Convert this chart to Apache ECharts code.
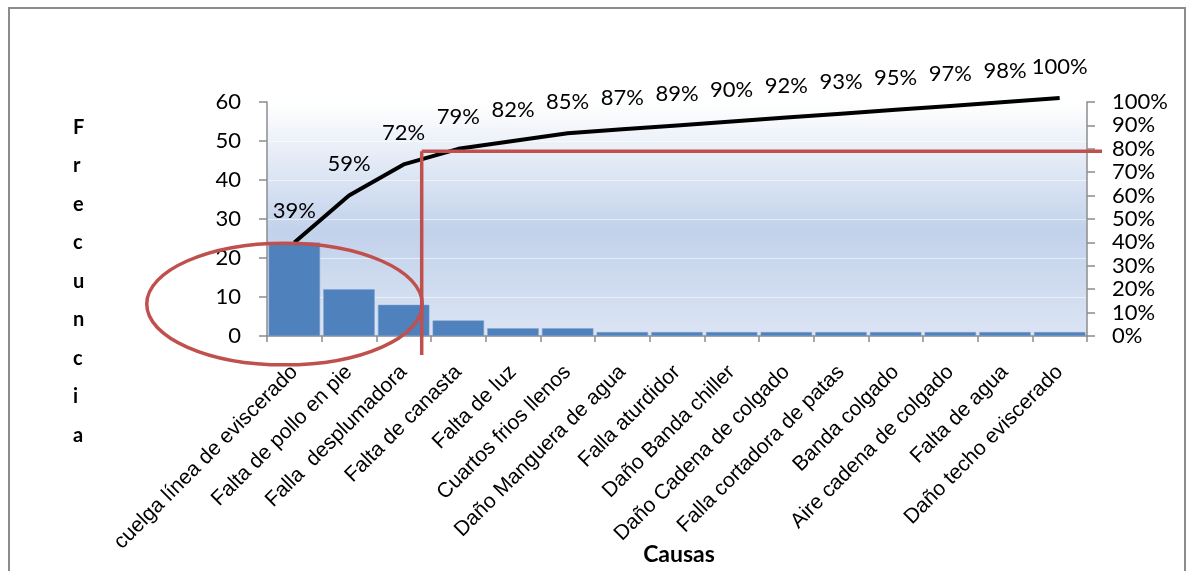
<!DOCTYPE html>
<html>
<head>
<meta charset="utf-8">
<script src="https://cdn.jsdelivr.net/npm/echarts@6/dist/echarts.min.js"></script>
<style>
html,body{margin:0;padding:0;background:#fff;}
#c{width:1191px;height:571px;}
</style>
</head>
<body>
<div id="c"></div>
<script>
const categories = [
  "cuelga línea de eviscerado",
  "Falta de pollo en pie",
  "Falla  desplumadora",
  "Falta de canasta",
  "Falta de luz",
  "Cuartos frios llenos",
  "Daño Manguera de agua",
  "Falla aturdidor",
  "Daño Banda chiller",
  "Daño Cadena de colgado",
  "Falla cortadora de patas",
  "Banda colgado",
  "Aire cadena de colgado",
  "Falta de agua",
  "Daño techo eviscerado"
];
const counts = [24, 12, 8, 4, 2, 2, 1, 1, 1, 1, 1, 1, 1, 1, 1];
const leftTicks = { min: 0, max: 60, interval: 10 };
const rightTicks = { min: 0, max: 100, interval: 10 };
const yAxisTitle = "Frecuncia";
const xAxisTitle = "Causas";
// annotation (hand-drawn in original): cutoff at ~79%, split after ~2.3 categories
const cutoffPercent = 79;

const total = counts.reduce((a, b) => a + b, 0);
const cumulative = [];
counts.reduce((acc, v, i) => { cumulative[i] = acc + v; return acc + v; }, 0);

const chart = echarts.init(document.getElementById('c'));
const numFont = 'Lato';
const option = {
  animation: false,
  grid: {
    left: 267, right: 104, top: 102, bottom: 235,
    containLabel: false,
    outerBoundsMode: 'none',
    show: true, borderWidth: 0,
    backgroundColor: {
      type: 'linear', x: 0, y: 0, x2: 0, y2: 1,
      colorStops: [
        { offset: 0, color: '#ffffff' },
        { offset: 0.55, color: '#c2d2eb' },
        { offset: 1, color: '#dbe4f3' }
      ]
    }
  },
  xAxis: {
    type: 'category',
    data: categories,
    axisLine: { lineStyle: { color: '#8c8c8c', width: 1.5 } },
    axisTick: { show: true, length: 6, lineStyle: { color: '#8c8c8c', width: 1.5 } },
    axisLabel: {
      interval: 0, rotate: 45, margin: 33,
      fontFamily: 'Liberation Sans, Arial', fontSize: 21, color: '#000'
    }
  },
  yAxis: [
    {
      type: 'value', min: leftTicks.min, max: leftTicks.max, interval: leftTicks.interval,
      axisLine: { show: true, lineStyle: { color: '#8c8c8c', width: 1.5 } },
      axisTick: { show: true, length: 8, lineStyle: { color: '#8c8c8c', width: 1.5 } },
      axisLabel: { fontFamily: numFont, fontSize: 22, color: '#000', margin: 26 },
      splitLine: { show: true, lineStyle: { color: 'rgba(255,255,255,0.55)', width: 1 } }
    },
    {
      type: 'value', min: rightTicks.min, max: rightTicks.max, interval: rightTicks.interval,
      position: 'right',
      axisLine: { show: true, lineStyle: { color: '#8c8c8c', width: 1.5 } },
      axisTick: { show: true, length: 8, lineStyle: { color: '#8c8c8c', width: 1.5 } },
      axisLabel: { fontFamily: numFont, fontSize: 22, color: '#000', margin: 25, formatter: '{value}%' },
      splitLine: { show: false }
    }
  ],
  series: [
    {
      type: 'bar',
      data: counts,
      barCategoryGap: '6%',
      itemStyle: { color: '#4f81bd', borderColor: '#7fa3d0', borderWidth: 0.5 }
    },
    {
      type: 'line',
      data: cumulative,
      yAxisIndex: 0,
      clip: false,
      symbol: 'circle',
      symbolSize: 1,
      showSymbol: true,
      itemStyle: { color: 'rgba(0,0,0,0)' },
      lineStyle: { color: '#000', width: 4 },
      label: {
        show: true, position: 'top', distance: 20,
        fontFamily: numFont, fontSize: 22, color: '#000',
        formatter: p => Math.round(p.value / total * 100) + '%'
      },
      labelLayout: { hideOverlap: false },
      z: 3
    }
  ],
  graphic: []
};
chart.setOption(option);

function annotate() {
  const px = (ci, v) => chart.convertToPixel({ gridIndex: 0 }, [ci, v]);
  const c0 = px(0, 0);
  const band = px(1, 0)[0] - c0[0];
  const yL = v => chart.convertToPixel({ yAxisIndex: 0 }, v);
  const yR = v => chart.convertToPixel({ yAxisIndex: 1 }, v);
  const leftX = c0[0] - band / 2;
  const rightX = px(categories.length - 1, 0)[0] + band / 2;
  const hy = yR(cutoffPercent);
  const vx = c0[0] + band * 2.33;
  const red = '#c0504d';
  chart.setOption({
    graphic: [
      { type: 'rect', shape: { x: 9, y: 8, width: 1176, height: 600 },
        style: { fill: 'none', stroke: '#8c8c8c', lineWidth: 2 }, z: 100 },
      { type: 'text', left: 73, top: 108,
        style: { text: yAxisTitle.split('').join('\n'), font: 'bold 20px Lato',
          fill: '#000', align: 'center', lineHeight: 38.5 }, z: 100 },
      { type: 'text', x: (leftX + rightX) / 2 + 2, y: 555,
        style: { text: xAxisTitle, font: 'bold 23px Lato', fill: '#000',
          align: 'center', verticalAlign: 'middle' }, z: 100 },
      { type: 'ellipse',
        shape: { cx: c0[0] - band * 0.18, cy: yL(8.2), rx: band * 2.52, ry: yL(0) - yL(15.6) },
        style: { fill: 'none', stroke: red, lineWidth: 3.5 }, z: 100 },
      { type: 'line', shape: { x1: vx, y1: hy, x2: vx, y2: yL(-4.9) },
        style: { stroke: red, lineWidth: 3.5 }, z: 100 },
      { type: 'line', shape: { x1: vx, y1: hy, x2: rightX + 15, y2: hy },
        style: { stroke: red, lineWidth: 3.5 }, z: 100 }
    ]
  });
}
annotate();
</script>
</body>
</html>
